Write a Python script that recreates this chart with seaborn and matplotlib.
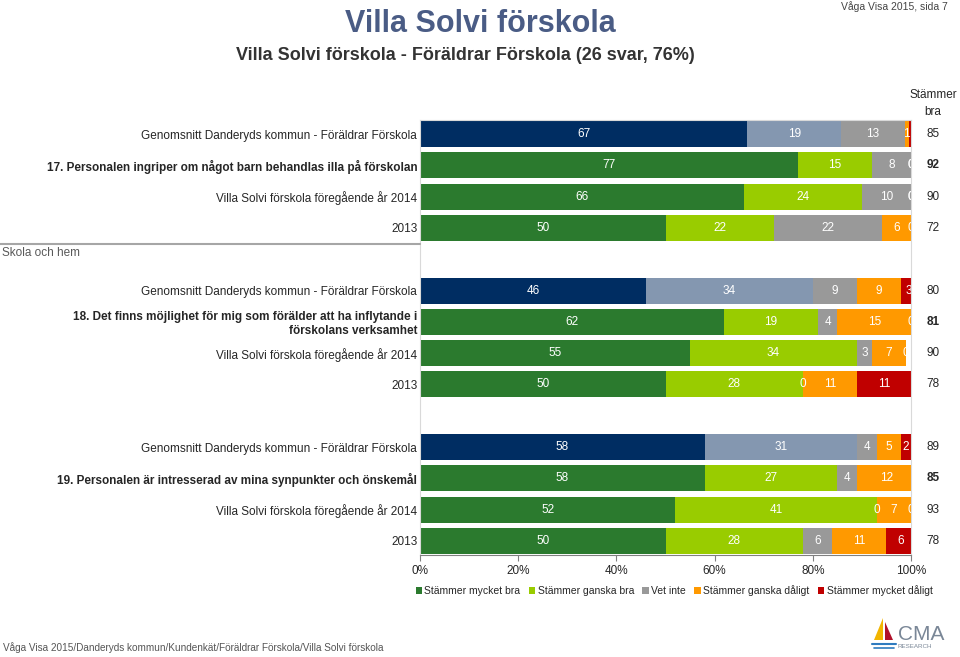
import matplotlib
matplotlib.use('Agg')
import matplotlib.pyplot as plt
from matplotlib.lines import Line2D
from matplotlib.patches import Patch, Polygon
import numpy as np
import pandas as pd
import seaborn as sns

# answer categories (stack order, left to right)
categories = ['Stämmer mycket bra', 'Stämmer ganska bra', 'Vet inte',
              'Stämmer ganska dåligt', 'Stämmer mycket dåligt']

row_labels = ['Genomsnitt Danderyds kommun - Föräldrar Förskola',
              '17. Personalen ingriper om något barn behandlas illa på förskolan',
              'Villa Solvi förskola föregående år 2014',
              '2013',
              'Genomsnitt Danderyds kommun - Föräldrar Förskola',
              '18. Det finns möjlighet för mig som förälder att ha inflytande i\nförskolans verksamhet',
              'Villa Solvi förskola föregående år 2014',
              '2013',
              'Genomsnitt Danderyds kommun - Föräldrar Förskola',
              '19. Personalen är intresserad av mina synpunkter och önskemål',
              'Villa Solvi förskola föregående år 2014',
              '2013']
row_kind = ['avg', 'q', 'prev', 'prev'] * 3

avg_17 = [66.6, 19.2, 12.9, 0.8, 0.5]
q17_2015 = [77, 15, 8, 0, 0]
q17_2014 = [66, 24, 10, 0, 0]
q17_2013 = [50, 22, 22, 6, 0]
avg_18 = [46, 34, 9, 9, 3]
q18_2015 = [62, 19, 4, 15, 0]
q18_2014 = [55, 34, 3, 7, 0]
q18_2013 = [50, 28, 0, 11, 11]
avg_19 = [58, 31, 4, 5, 2]
q19_2015 = [58, 27, 4, 12, 0]
q19_2014 = [52, 41, 0, 7, 0]
q19_2013 = [50, 28, 6, 11, 6]

stammer_bra = [85, 92, 90, 72, 80, 81, 90, 78, 89, 85, 93, 78]

rows = [avg_17, q17_2015, q17_2014, q17_2013,
        avg_18, q18_2015, q18_2014, q18_2013,
        avg_19, q19_2015, q19_2014, q19_2013]

school_colors = ['#2b7a2e', '#99cc00', '#999999', '#ff9900', '#c00000']
avg_colors = ['#002d62', '#8497b0', '#999999', '#ff9900', '#c00000']

# build long table with cumulative values
row_ids = ['r%d' % i for i in range(len(rows))]
order = row_ids[0:4] + ['gap1'] + row_ids[4:8] + ['gap2'] + row_ids[8:12]
recs = []
for i, vals in enumerate(rows):
    cum = np.cumsum(vals)
    for k, v in enumerate(vals):
        recs.append({'row': row_ids[i], 'seg': k, 'value': v, 'cum': cum[k],
                     'kind': 'avg' if row_kind[i] == 'avg' else 'school'})
df = pd.DataFrame(recs)

sns.set_style('white')
plt.rcParams['font.family'] = ['Liberation Sans', 'DejaVu Sans']

fig = plt.figure(figsize=(9.6, 6.57), dpi=100)
ax = fig.add_axes([420 / 960, 1 - 555 / 657, 491 / 960, 435 / 657])

for k in reversed(range(len(categories))):
    sub = df[df.seg == k]
    sns.barplot(data=sub, x='cum', y='row', hue='kind', order=order,
                palette={'avg': avg_colors[k], 'school': school_colors[k]},
                dodge=False, width=0.83, orient='h', errorbar=None, saturation=1,
                linewidth=0, legend=False, ax=ax)

pos = {r: order.index(r) for r in row_ids}

# segment labels (tiny slivers below 1 % get no label)
for _, r in df.iterrows():
    if 0 < r.value < 0.6:
        continue
    ax.text(r.cum - r.value / 2, pos[r.row], '%.0f' % r.value, color='white',
            ha='center', va='center', fontsize=8.5, clip_on=True)

ax.set_xlim(0, 100)
ax.set_ylim(13.45, -0.45)
ax.set_xticks([0, 20, 40, 60, 80, 100])
ax.set_xticklabels(['0%', '20%', '40%', '60%', '80%', '100%'], fontsize=8.5)
ax.set_xlabel('')
ax.set_ylabel('')
ax.set_yticks([pos[r] for r in row_ids])
ax.set_yticklabels(row_labels, fontsize=8.5)
for lab, kind in zip(ax.get_yticklabels(), row_kind):
    if kind == 'q':
        lab.set_fontweight('bold')
    lab.set_multialignment('right')
ax.tick_params(axis='y', length=0, pad=2)
ax.tick_params(axis='x', bottom=True, length=4, color='#808080', pad=3)
for s in ['left', 'top', 'right']:
    ax.spines[s].set_color('#d9d9d9')
    ax.spines[s].set_linewidth(0.8)
ax.spines['bottom'].set_color('#808080')

# right column: Stämmer bra
for i, v in enumerate(stammer_bra):
    ax.text(104.5, pos[row_ids[i]], str(v), ha='center', va='center', fontsize=8.5,
            fontweight='bold' if row_kind[i] == 'q' else 'normal', clip_on=False)
ax.text(104.5, -0.98, 'Stämmer\nbra', ha='center', va='center', fontsize=8.5,
        linespacing=1.55, clip_on=False)

# section separator and name
fig.add_artist(Line2D([0, 420 / 960], [1 - 244 / 657] * 2, color='#a6a6a6', lw=1.5))
fig.text(2 / 960, 1 - 253 / 657, 'Skola och hem', fontsize=8.5, color='#595959', va='center')

# titles
fig.text(480 / 960, 1 - 24 / 657, 'Villa Solvi förskola', ha='center', va='center',
         fontsize=22, fontweight='bold', color='#4a5c85')
fig.text(465 / 960, 1 - 55 / 657, 'Villa Solvi förskola - Föräldrar Förskola (26 svar, 76%)',
         ha='center', va='center', fontsize=13, fontweight='bold', color='#333333')
fig.text(948 / 960, 1 - 7 / 657, 'Våga Visa 2015, sida 7', ha='right', va='center',
         fontsize=7.5, color='#444444')

# legend
handles = [Patch(facecolor=c, edgecolor='none') for c in school_colors]
fig.legend(handles, categories, loc='center', ncol=5, frameon=False,
           bbox_to_anchor=(674 / 960, 1 - 591 / 657), fontsize=7.5,
           handlelength=0.6, handleheight=0.6, handletextpad=0.25, columnspacing=0.8)

# footer
fig.text(3 / 960, 1 - 648 / 657,
         'Våga Visa 2015/Danderyds kommun/Kundenkät/Föräldrar Förskola/Villa Solvi förskola',
         fontsize=7.2, color='#555555', va='center',
         family=['Liberation Sans Narrow', 'Liberation Sans'])

# simple CMA logo
fig.add_artist(Polygon([[883 / 960, 1 - 618 / 657], [874 / 960, 1 - 640 / 657], [883 / 960, 1 - 640 / 657]],
                       closed=True, facecolor='#f2b500', edgecolor='none', transform=fig.transFigure))
fig.add_artist(Polygon([[885 / 960, 1 - 622 / 657], [885 / 960, 1 - 640 / 657], [893 / 960, 1 - 640 / 657]],
                       closed=True, facecolor='#b0102a', edgecolor='none', transform=fig.transFigure))
fig.add_artist(Line2D([872 / 960, 896 / 960], [1 - 644 / 657] * 2, color='#2e7bbf', lw=1.5))
fig.add_artist(Line2D([874 / 960, 894 / 960], [1 - 648 / 657] * 2, color='#2e7bbf', lw=1.2))
fig.text(898 / 960, 1 - 634 / 657, 'CMA', fontsize=15, color='#7a8797', va='center',
         family=['Liberation Sans Narrow', 'Liberation Sans'])
fig.text(898 / 960, 1 - 647 / 657, 'RESEARCH', fontsize=4.5, color='#7a8797', va='center')

fig.savefig('out.png', dpi=100)
